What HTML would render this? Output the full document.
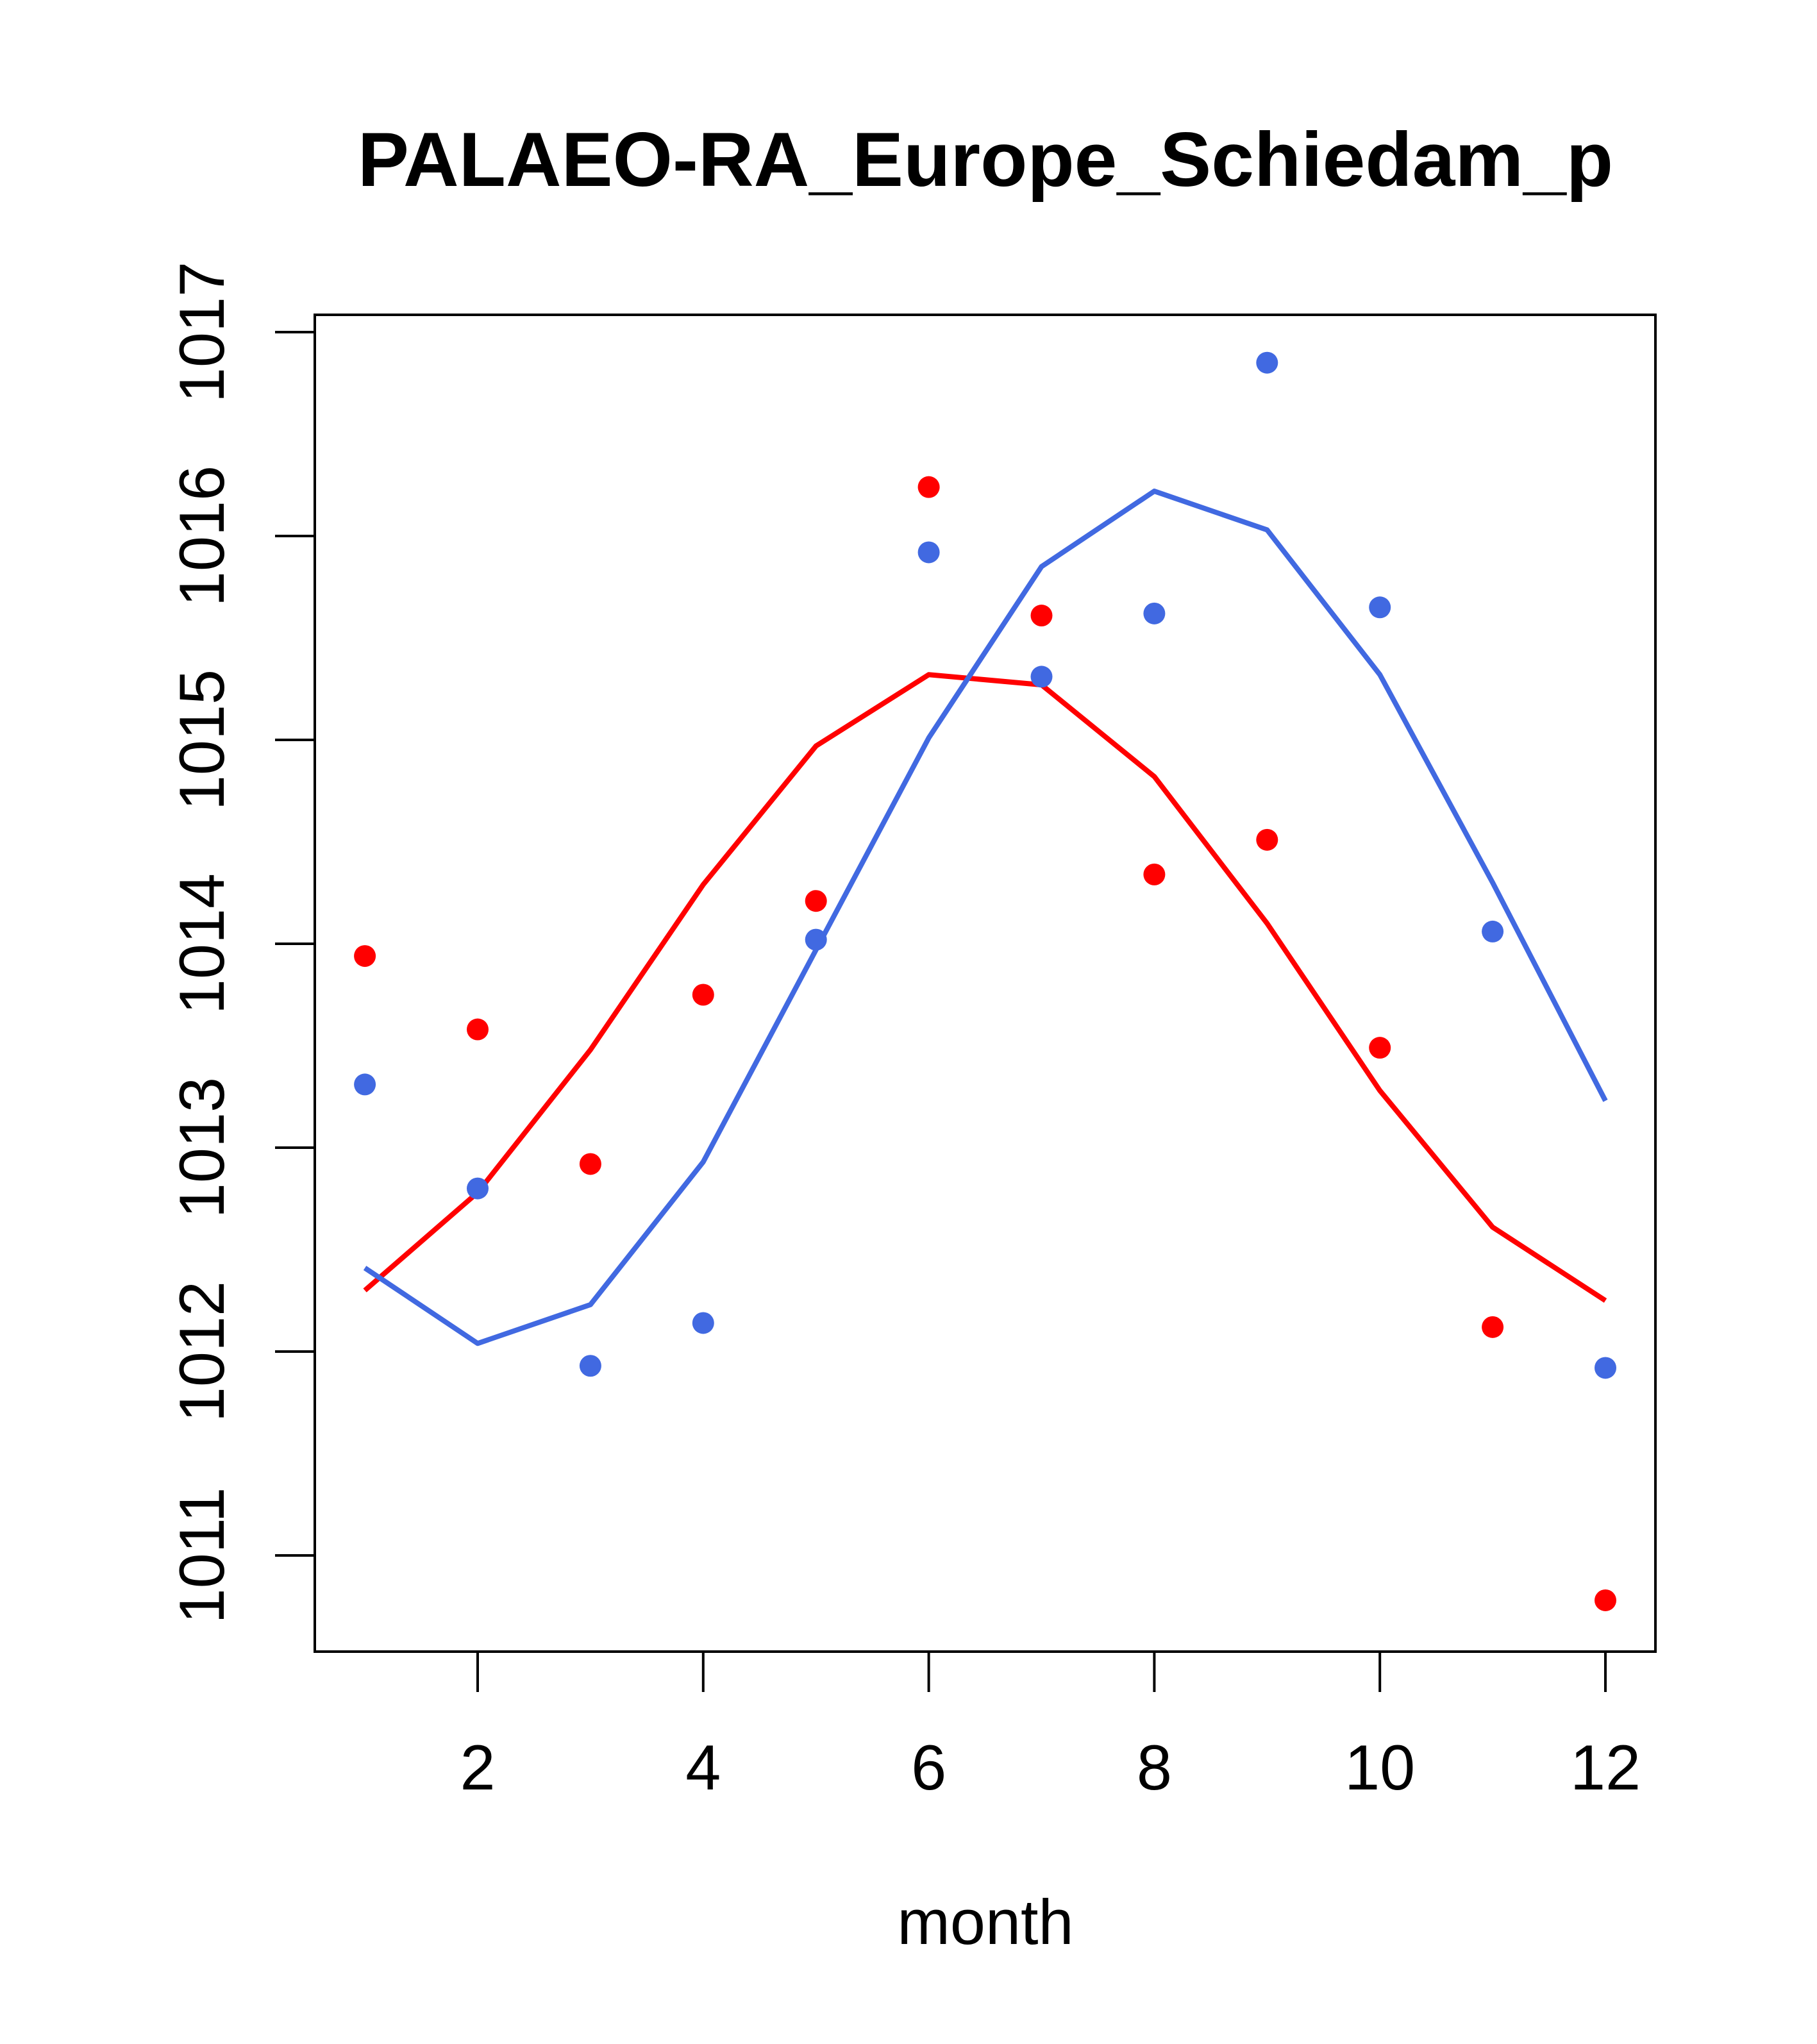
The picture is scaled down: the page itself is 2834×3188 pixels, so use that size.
<!DOCTYPE html>
<html><head><meta charset="utf-8"><style>
html,body{margin:0;padding:0;background:#fff;}
svg{display:block;}
text{font-family:"Liberation Sans",sans-serif;fill:#000;}
</style></head><body>
<svg id="chart" width="2834" height="3188" viewBox="0 0 2834 3188" xmlns="http://www.w3.org/2000/svg">
<rect width="2834" height="3188" fill="#fff"/>
<text x="1537" y="290" font-size="120" font-weight="bold" text-anchor="middle">PALAEO-RA_Europe_Schiedam_p</text>
<text x="1537" y="3032" font-size="99" text-anchor="middle">month</text>
<rect x="491" y="491" width="2091" height="2085" fill="none" stroke="#000" stroke-width="4"/>
<g id="axes"></g>
<g id="series"></g>
</svg>
<script>
const months = [1,2,3,4,5,6,7,8,9,10,11,12];
const redPoints = [1013.94,1013.58,1012.92,1013.75,1014.21,1016.24,1015.61,1014.34,1014.51,1013.49,1012.12,1010.78];
const bluePoints = [1013.31,1012.80,1011.93,1012.14,1014.02,1015.92,1015.31,1015.62,1016.85,1015.65,1014.06,1011.92];
const redLine = [1012.30,1012.78,1013.48,1014.29,1014.97,1015.32,1015.27,1014.82,1014.10,1013.28,1012.61,1012.25];
const blueLine = [1012.41,1012.04,1012.23,1012.93,1013.97,1015.01,1015.85,1016.22,1016.03,1015.32,1014.30,1013.23];
const xTicks = [2,4,6,8,10,12];
const yTicks = [1011,1012,1013,1014,1015,1016,1017];

const NS = "http://www.w3.org/2000/svg";
const xS = m => 745 + (m - 2) * 175.9;
const yS = v => 518 + (1017 - v) * 318;
const axes = document.getElementById('axes');
const series = document.getElementById('series');
function mk(tag, attrs, parent){const e=document.createElementNS(NS,tag);for(const k in attrs)e.setAttribute(k,attrs[k]);parent.appendChild(e);return e;}

xTicks.forEach(t=>{
  const l=mk('line',{x1:xS(t),x2:xS(t),y1:2576,y2:2639,stroke:'#000','stroke-width':4},axes);
  
  
  const tx=mk('text',{x:xS(t),y:2791,'font-size':99,'text-anchor':'middle'},axes);
  tx.textContent=t;
  
  
});
yTicks.forEach(t=>{
  const y=yS(t);
  const l=mk('line',{x1:429,x2:491,y1:y,y2:y,stroke:'#000','stroke-width':4},axes);
  
  
  const tx=mk('text',{x:349,y:y,'font-size':99,'text-anchor':'middle',transform:`rotate(-90 349 ${y})`},axes);
  tx.textContent=t;
  
  
});
function line(vals,color,name){
  const p=mk('polyline',{points:vals.map((v,i)=>xS(months[i])+','+yS(v)).join(' '),fill:'none',stroke:color,'stroke-width':8,'stroke-linejoin':'round'},series);
  
  
}
function pts(vals,color,name){
  vals.forEach((v,i)=>{
    const c=mk('circle',{cx:xS(months[i]),cy:yS(v),r:17,fill:color},series);
    
    
  });
}
line(redLine,'#ff0000','red-line');
line(blueLine,'#4169e1','blue-line');
pts(redPoints,'#ff0000','red-point');
pts(bluePoints,'#4169e1','blue-point');
</script>
</body></html>
